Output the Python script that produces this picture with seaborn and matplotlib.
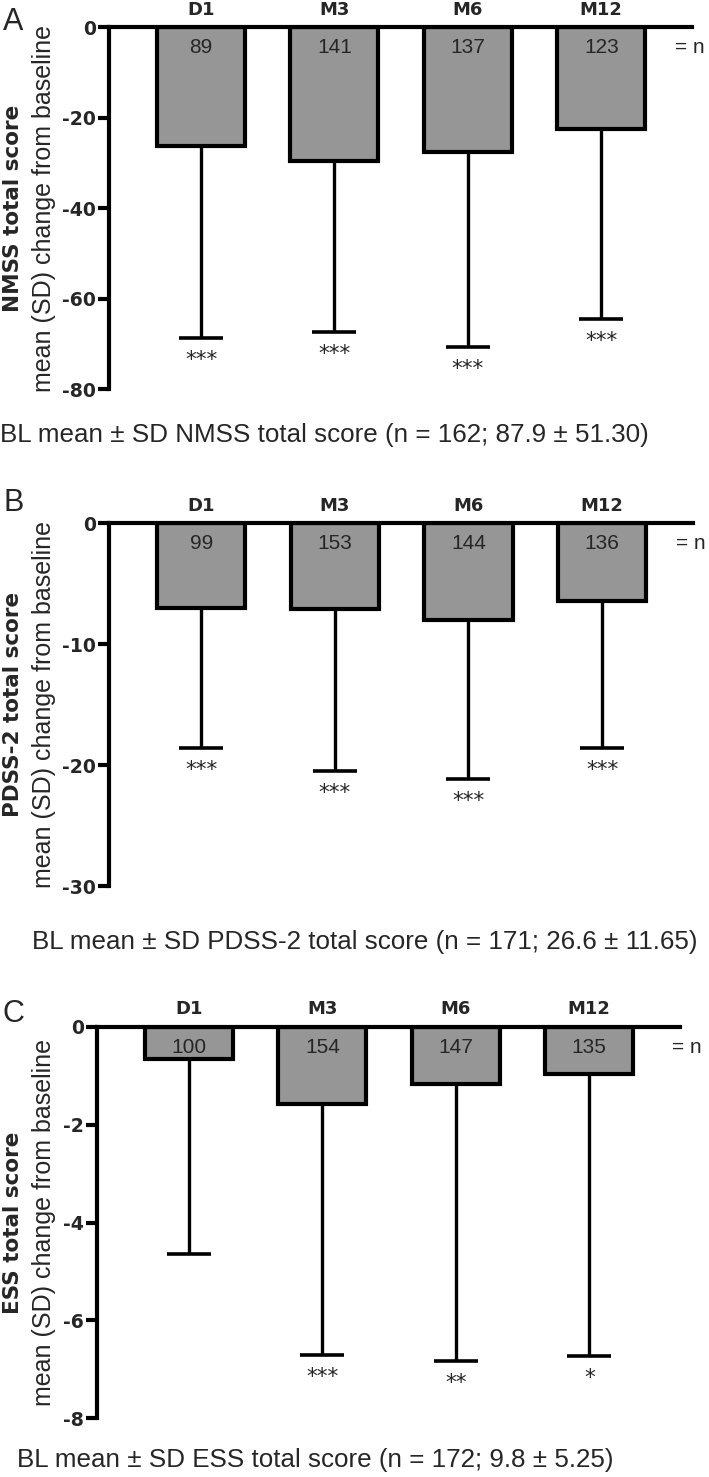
import matplotlib
matplotlib.use("Agg")
import matplotlib.pyplot as plt
import seaborn as sns
import numpy as np
import pandas as pd

# ---------------- data ----------------
categories = ["D1", "M3", "M6", "M12"]

nmss_mean = [-26.2, -29.5, -27.5, -22.5]
nmss_sd = [42.4, 37.8, 43.1, 42.0]
nmss_n = [89, 141, 137, 123]
nmss_sig = ["***", "***", "***", "***"]
nmss_ticks = [0, -20, -40, -60, -80]

pdss_mean = [-7.0, -7.06, -8.0, -6.4]
pdss_sd = [11.6, 13.45, 13.15, 12.2]
pdss_n = [99, 153, 144, 136]
pdss_sig = ["***", "***", "***", "***"]
pdss_ticks = [0, -10, -20, -30]

ess_mean = [-0.67, -1.57, -1.17, -0.97]
ess_sd = [3.97, 5.14, 5.65, 5.75]
ess_n = [100, 154, 147, 135]
ess_sig = ["", "***", "**", "*"]
ess_ticks = [0, -2, -4, -6, -8]

panel_letters = ["A", "B", "C"]
score_names = ["NMSS total score", "PDSS-2 total score", "ESS total score"]
ylabel_common = "mean (SD) change from baseline"
captions = [
    "BL mean \u00b1 SD NMSS total score (n = 162; 87.9 \u00b1 51.30)",
    "BL mean \u00b1 SD PDSS-2 total score (n = 171; 26.6 \u00b1 11.65)",
    "BL mean \u00b1 SD ESS total score (n = 172; 9.8 \u00b1 5.25)",
]

# ---------------- style ----------------
sns.set_style("white")
plt.rcParams["font.family"] = ["Liberation Sans", "DejaVu Sans"]
plt.rcParams["axes.unicode_minus"] = False
BOLD = ["DejaVu Sans"]

W, H = 709, 1477
fig = plt.figure(figsize=(W / 100, H / 100), dpi=100)

GRAY = "#969696"
PX = 0.72  # points per pixel at 100 dpi

# layout in pixels: (left, right, top, bottom)
layouts = [
    dict(box=(109, 692, 27.3, 389.3), letter_y=22, eqn_x=675, cap=(0, 435)),
    dict(box=(109, 693, 523.3, 886.0), letter_y=503, eqn_x=676, cap=(32, 942)),
    dict(box=(97, 680, 1026.7, 1418.3), letter_y=1014, eqn_x=672, cap=(17, 1460)),
]

datasets = [
    (nmss_mean, nmss_sd, nmss_n, nmss_sig, nmss_ticks),
    (pdss_mean, pdss_sd, pdss_n, pdss_sig, pdss_ticks),
    (ess_mean, ess_sd, ess_n, ess_sig, ess_ticks),
]

for k, (lay, (means, sds, ns, sigs, ticks)) in enumerate(zip(layouts, datasets)):
    l, r, t, b = lay["box"]
    ax = fig.add_axes([l / W, 1 - b / H, (r - l) / W, (b - t) / H])
    df = pd.DataFrame({"visit": categories, "change": means})
    sns.barplot(data=df, x="visit", y="change", ax=ax, color=GRAY,
                edgecolor="black", linewidth=3.0, width=0.66,
                errorbar=None, saturation=1, zorder=3)
    ax.errorbar(x=np.arange(len(categories)), y=means,
                yerr=[sds, np.zeros(len(sds))], fmt="none", ecolor="black",
                elinewidth=2.4, capsize=15.8, capthick=2.6, zorder=2)

    ax.set_ylim(min(ticks), 0)
    ax.set_xlim(-0.69, 3.68)
    ax.set_yticks(ticks)
    ax.set_xlabel("")
    ax.set_ylabel("")
    for side in ["right", "bottom"]:
        ax.spines[side].set_visible(False)
    for side in ["left", "top"]:
        ax.spines[side].set_visible(True)
        ax.spines[side].set_linewidth(3.0)
        ax.spines[side].set_color("black")
        ax.spines[side].set_zorder(5)

    ax.tick_params(axis="y", left=True, length=8, width=3.0, pad=1.5,
                   labelsize=13.6, color="black")
    for lbl in ax.get_yticklabels():
        lbl.set_fontweight("bold")
        lbl.set_family(BOLD)
    ax.xaxis.tick_top()
    ax.tick_params(axis="x", top=False, bottom=False, length=0, pad=6,
                   labelsize=13.0)
    for lbl in ax.get_xticklabels():
        lbl.set_fontweight("bold")
        lbl.set_family(BOLD)

    for i, (m, s, n, sg) in enumerate(zip(means, sds, ns, sigs)):
        ax.annotate(str(n), xy=(i, 0), xytext=(0, -26 * PX),
                    textcoords="offset points", ha="center", va="baseline",
                    fontsize=15, zorder=6)
        if sg:
            ax.annotate(sg, xy=(i, m - s), xytext=(0, -28 * PX),
                        textcoords="offset points", ha="center", va="baseline",
                        fontsize=15.5, family=BOLD, annotation_clip=False)

    # "= n" aligned with the n labels
    ax.annotate("= n", xy=(lay["eqn_x"] / W, 0), xytext=(0, -26 * PX),
                xycoords=("figure fraction", "data"), textcoords="offset points",
                ha="left", va="baseline", fontsize=15, annotation_clip=False)

    # y labels
    yc = 1 - ((t + b) / 2) / H
    fig.text(13 / W, yc, score_names[k], rotation=90,
             ha="center", va="center", fontsize=15.5, fontweight="bold",
             family=BOLD)
    fig.text(44 / W, yc, ylabel_common, rotation=90,
             ha="center", va="center", fontsize=18)

    # panel letter, caption
    fig.text(3 / W, 1 - lay["letter_y"] / H, panel_letters[k],
             ha="left", va="center", fontsize=22)
    fig.text(lay["cap"][0] / W, 1 - lay["cap"][1] / H, captions[k],
             ha="left", va="center", fontsize=18.7)

fig.savefig("out.png", dpi=100)
